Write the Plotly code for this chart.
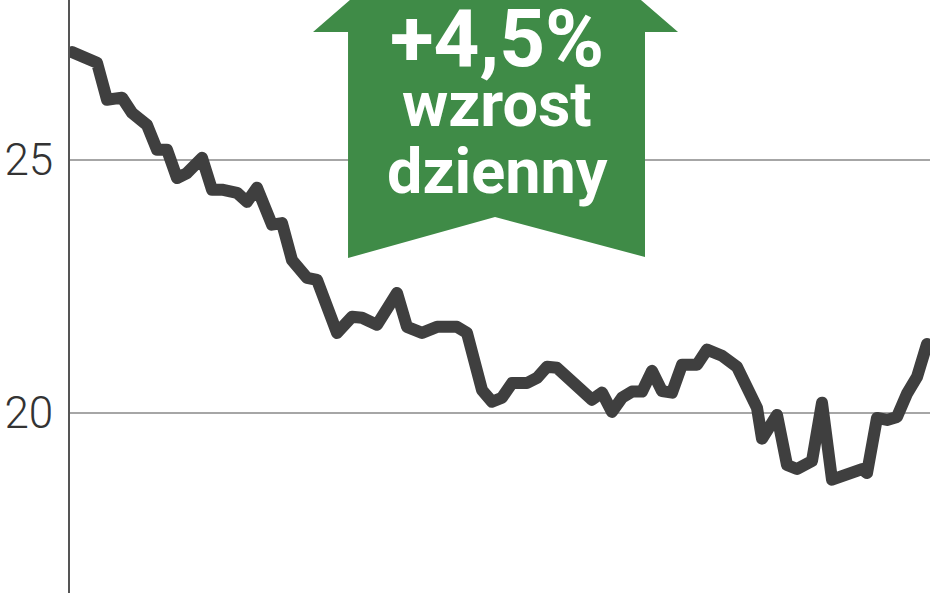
import plotly.graph_objects as go

# Kurs akcji - notowania z kolejnych sesji
sesje = [0, 4, 5, 7, 10, 12, 15, 17, 19, 21, 23, 26, 28, 30, 33, 35, 37, 40, 42, 44,
         47, 49, 53, 56, 58, 61, 65, 67, 70, 73, 77, 79, 82, 84, 86, 88, 91, 93, 95, 97,
         100, 102, 104, 106, 108, 110, 112, 114, 116, 118, 120, 122, 125, 127, 130, 133,
         135, 137, 138, 141, 143, 145, 148, 150, 152, 156, 158, 159, 161, 163, 165, 167,
         169, 171]
kurs = [27.13, 26.94, 26.92, 26.19, 26.23, 25.93, 25.69, 25.20, 25.20, 24.64, 24.74, 25.04,
        24.41, 24.41, 24.35, 24.17, 24.45, 23.72, 23.75, 23.02, 22.67, 22.63, 21.58, 21.90,
        21.88, 21.74, 22.37, 21.70, 21.58, 21.70, 21.70, 21.58, 20.45, 20.22, 20.30, 20.59,
        20.59, 20.69, 20.91, 20.89, 20.59, 20.40, 20.26, 20.40, 20.02, 20.30, 20.42, 20.42,
        20.83, 20.43, 20.40, 20.95, 20.95, 21.25, 21.13, 20.91, 20.51, 20.10, 19.49, 19.96,
        18.97, 18.89, 19.05, 20.20, 18.68, 18.83, 18.89, 18.81, 19.90, 19.86, 19.92, 20.38,
        20.71, 21.36]

os_y_ticki = [20, 25]
etykiety = ["+4,5%", "wzrost", "dzienny"]

W, H = 948, 593
L, R = 70, 18


# pomocnicze: piksele -> wspolrzedne paper
def px(x):
    return (x - L) / (W - L - R)


def py(y):
    return 1 - y / H


fig = go.Figure()
fig.add_trace(go.Scatter(
    x=sesje, y=kurs, mode="lines",
    line=dict(color="#3f3f3f", width=12),
    hoverinfo="skip",
))

# strzalka w gore
pts = [(495, -126), (678, 32), (645, 32), (645, 257), (495, 217),
       (348, 258), (348, 32), (313, 32)]
path = "M " + " L ".join(f"{px(a):.4f},{py(b):.4f}" for a, b in pts) + " Z"
fig.add_shape(type="path", path=path, xref="paper", yref="paper",
              fillcolor="#3f8b47", line=dict(width=0), layer="above")

sizes = [80, 63, 63]
ys = [39, 104, 171]
for txt, s, yy in zip(etykiety, sizes, ys):
    fig.add_annotation(
        text=txt, x=px(497), y=py(yy), xref="paper", yref="paper",
        xanchor="center", yanchor="middle", showarrow=False,
        font=dict(family="Roboto", size=s, color="white", weight="bold"),
    )

fig.update_layout(
    width=W, height=H,
    margin=dict(l=L, r=R, t=0, b=0),
    plot_bgcolor="white", paper_bgcolor="white",
    showlegend=False,
    xaxis=dict(visible=False, range=[-0.4, 171.6]),
    yaxis=dict(
        range=[16.44, 28.16],
        tickvals=os_y_ticki,
        showgrid=True, gridcolor="#a6a6a6", gridwidth=2,
        zeroline=False,
        showline=True, linecolor="#555555", linewidth=2,
        ticks="", ticklabelstandoff=6,
        tickfont=dict(family="Roboto", size=44, color="#333333", weight=300),
    ),
)

# bez marginesu strony, zaokraglone zalamania linii
js = ("document.body.style.margin='0';"
      "function zaokr(){document.querySelectorAll('.scatterlayer path')"
      ".forEach(function(p){p.style.strokeLinejoin='round';p.style.strokeLinecap='round';});}"
      "zaokr();setTimeout(zaokr,50);setTimeout(zaokr,300);")
fig.write_html("out.html", post_script=js, config={"displayModeBar": False, "staticPlot": True})
